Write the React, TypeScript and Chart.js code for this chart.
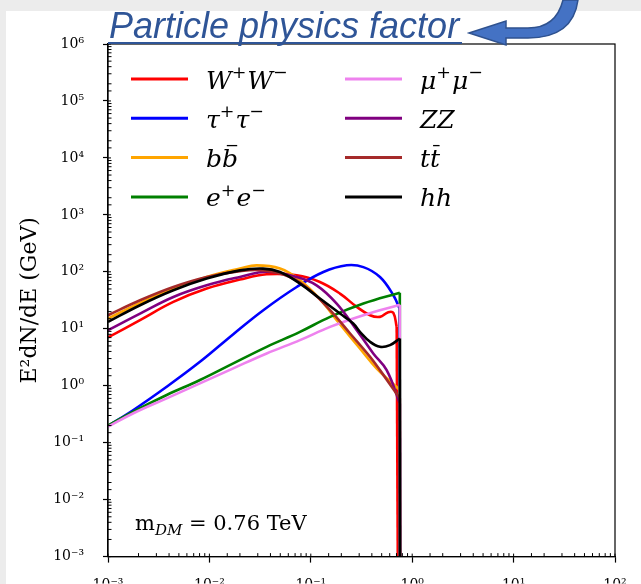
import React, { useEffect, useRef } from 'react';
import { Chart, registerables } from 'chart.js';

Chart.register(...registerables);

// ---------- data (x: E in TeV, y: E^2 dN/dE in GeV) ----------
const wwX = [0.001, 0.00207, 0.00441, 0.0094, 0.02, 0.0367, 0.0726, 0.123, 0.194, 0.284, 0.384, 0.481, 0.581, 0.652, 0.703, 0.73];
const wwY = [7.05, 14.2, 29.6, 50.8, 73, 90.4, 86.8, 66.3, 41.5, 24.2, 17.3, 16.2, 19.6, 19.0, 10.8, 1e-5];

const tauX = [0.001, 0.00178, 0.00379, 0.00807, 0.0172, 0.034, 0.0726, 0.133, 0.226, 0.33, 0.481, 0.652, 0.75, 0.76];
const tauY = [0.197, 0.375, 0.96, 2.63, 8.04, 21.2, 54.2, 99.2, 130, 121, 81, 38.8, 22.7, 1e-5];

const bbX = [0.001, 0.00207, 0.00441, 0.0094, 0.02, 0.0292, 0.0497, 0.0782, 0.123, 0.194, 0.305, 0.447, 0.75, 0.76];
const bbY = [15.1, 28.4, 50.8, 81.1, 114, 130, 114, 71, 33, 12, 4.5, 2.0, 0.85, 1e-5];

const eeX = [0.001, 0.00178, 0.00379, 0.00807, 0.0172, 0.0367, 0.0782, 0.155, 0.33, 0.755, 0.76];
const eeY = [0.2, 0.351, 0.687, 1.26, 2.47, 4.82, 8.83, 16.2, 27.7, 42.9, 1e-5];

const mmX = [0.001, 0.00178, 0.00379, 0.00807, 0.0172, 0.0367, 0.0782, 0.155, 0.33, 0.755, 0.76];
const mmY = [0.191, 0.329, 0.601, 1.1, 2.02, 3.69, 6.31, 10.8, 17.3, 26.4, 1e-5];

const zzX = [0.001, 0.00207, 0.00441, 0.0094, 0.02, 0.0367, 0.0726, 0.114, 0.18, 0.284, 0.413, 0.56, 0.755, 0.76];
const zzY = [9.45, 18.5, 36.2, 58, 81.1, 100, 81.1, 58, 27.7, 9.45, 3.69, 1.88, 0.49, 1e-5];

const ttX = [0.001, 0.00207, 0.00441, 0.0094, 0.02, 0.034, 0.0623, 0.098, 0.155, 0.244, 0.384, 0.481, 0.755, 0.76];
const ttY = [17.3, 31.7, 54.2, 81.1, 103, 106, 81.1, 47.4, 21.2, 8.27, 3.22, 1.88, 0.6, 1e-5];

const hhX = [0.001, 0.00207, 0.00441, 0.0094, 0.02, 0.0338, 0.0497, 0.0782, 0.123, 0.194, 0.262, 0.305, 0.384, 0.481, 0.604, 0.755, 0.76];
const hhY = [13.2, 25.9, 47.4, 76, 106, 114, 99, 62.1, 33.9, 18.5, 12.4, 8.83, 5.9, 4.82, 5.16, 6.76, 1e-5];

const seriesLabels = ['W⁺W⁻', 'τ⁺τ⁻', 'bb̄', 'e⁺e⁻', 'μ⁺μ⁻', 'ZZ', 'tt̄', 'hh'];
const seriesColors = ['#ff0000', '#0000ff', '#ffa500', '#008000', '#ee82ee', '#800080', '#a52a2a', '#000000'];
const seriesX = [wwX, tauX, bbX, eeX, mmX, zzX, ttX, hhX];
const seriesY = [wwY, tauY, bbY, eeY, mmY, zzY, ttY, hhY];

type Seg = { t: string; sup?: boolean; bar?: boolean };
const legendLabels: Seg[][] = [
  [{ t: 'W' }, { t: '+', sup: true }, { t: 'W' }, { t: '−', sup: true }],
  [{ t: 'τ' }, { t: '+', sup: true }, { t: 'τ' }, { t: '−', sup: true }],
  [{ t: 'b' }, { t: 'b', bar: true }],
  [{ t: 'e' }, { t: '+', sup: true }, { t: 'e' }, { t: '−', sup: true }],
  [{ t: 'μ' }, { t: '+', sup: true }, { t: 'μ' }, { t: '−', sup: true }],
  [{ t: 'Z' }, { t: 'Z' }],
  [{ t: 't' }, { t: 't', bar: true }],
  [{ t: 'h' }, { t: 'h' }],
];

const yTitle = 'E²dN/dE (GeV)';
const massText = { m: 'm', sub: 'DM', rest: ' = 0.76 TeV' };
const headline = 'Particle physics factor';

const SUP: Record<string, string> = { '0': '⁰', '1': '¹', '2': '²', '3': '³', '4': '⁴', '5': '⁵', '6': '⁶', '7': '⁷', '8': '⁸', '9': '⁹', '-': '⁻' };
const isPow10 = (v: number) => {
  const l = Math.log10(v);
  return Math.abs(l - Math.round(l)) < 1e-6;
};
const powLabel = (v: number) => {
  if (!isPow10(v)) return '';
  const r = Math.round(Math.log10(v));
  return '10' + String(r).split('').map((c) => SUP[c]).join('');
};

const SERIF = '"DejaVu Serif", serif';

function drawRich(ctx: CanvasRenderingContext2D, segs: Seg[], x: number, baseline: number, size: number) {
  let cx = x;
  for (const s of segs) {
    const fs = s.sup ? size * 0.7 : size;
    ctx.font = `${s.sup ? '' : 'italic '}${fs}px ${SERIF}`;
    const y = s.sup ? baseline - size * 0.42 : baseline;
    ctx.fillText(s.t, cx, y);
    const w = ctx.measureText(s.t).width;
    if (s.bar) {
      ctx.beginPath();
      ctx.lineWidth = 1.3;
      ctx.moveTo(cx + w * 0.3, baseline - size * 0.86);
      ctx.lineTo(cx + w * 0.95, baseline - size * 0.86);
      ctx.stroke();
    }
    cx += w + (s.sup ? 1 : 0);
  }
}

const decorPlugin = {
  id: 'decor',
  afterDraw(chart: any) {
    const { ctx, chartArea: ca, scales } = chart;
    ctx.save();
    ctx.strokeStyle = '#000';
    ctx.lineWidth = 1.2;
    ctx.strokeRect(ca.left, ca.top, ca.right - ca.left, ca.bottom - ca.top);
    const xs = scales.x;
    const ys = scales.y;
    ctx.lineWidth = 1;
    xs.ticks.forEach((t: any) => {
      const p = xs.getPixelForValue(t.value);
      const len = isPow10(t.value) ? 3 : 3.5;
      ctx.beginPath();
      ctx.moveTo(p, ca.bottom);
      ctx.lineTo(p, ca.bottom - len);
      ctx.stroke();
    });
    ys.ticks.forEach((t: any) => {
      const p = ys.getPixelForValue(t.value);
      const len = isPow10(t.value) ? 3 : 3.5;
      ctx.beginPath();
      ctx.moveTo(ca.left, p);
      ctx.lineTo(ca.left + len, p);
      ctx.stroke();
    });
    // legend
    for (let i = 0; i < seriesLabels.length; i++) {
      const col = Math.floor(i / 4);
      const row = i % 4;
      const lx = ca.left + 23 + col * 214;
      const ly = ca.top + 35 + row * 39.3;
      ctx.strokeStyle = seriesColors[i];
      ctx.lineWidth = 3;
      ctx.beginPath();
      ctx.moveTo(lx, ly);
      ctx.lineTo(lx + 57, ly);
      ctx.stroke();
      ctx.fillStyle = '#000';
      ctx.strokeStyle = '#000';
      ctx.textBaseline = 'alphabetic';
      ctx.textAlign = 'left';
      drawRich(ctx, legendLabels[i], lx + 75, ly + 9.5, 25);
    }
    // mass annotation
    let ax = ca.left + 27;
    const ab = ca.bottom - 27;
    ctx.fillStyle = '#000';
    ctx.font = `21px ${SERIF}`;
    ctx.fillText(massText.m, ax, ab);
    ax += ctx.measureText(massText.m).width;
    ctx.font = `italic 15px ${SERIF}`;
    ctx.fillText(massText.sub, ax, ab + 5);
    ax += ctx.measureText(massText.sub).width;
    ctx.font = `21px ${SERIF}`;
    ctx.fillText(massText.rest, ax, ab);
    ctx.restore();
  },
};

export default function App() {
  const ref = useRef<HTMLCanvasElement | null>(null);
  useEffect(() => {
    if (!ref.current) return;
    const n = seriesLabels.length;
    const datasets: any[] = [];
    seriesLabels.forEach((label, i) => {
      const xs = seriesX[i];
      const ys = seriesY[i];
      const k = xs.length;
      // smooth spectrum up to the kinematic edge
      datasets.push({
        label,
        data: xs.slice(0, k - 1).map((x, j) => ({ x, y: ys[j] })),
        borderColor: seriesColors[i],
        backgroundColor: seriesColors[i],
        borderWidth: 2.6,
        pointRadius: 0,
        fill: false,
        tension: 0.4,
        order: n - i,
      });
      // sharp cut-off at E = m_DM
      datasets.push({
        label: label + ' cut-off',
        data: xs.slice(k - 2).map((x, j) => ({ x, y: ys[k - 2 + j] })),
        borderColor: seriesColors[i],
        backgroundColor: seriesColors[i],
        borderWidth: 2.6,
        pointRadius: 0,
        fill: false,
        tension: 0,
        order: n - i - 0.5,
      });
    });
    const chart = new Chart(ref.current, {
      type: 'line',
      data: { datasets },
      options: {
        animation: false,
        responsive: false,
        maintainAspectRatio: false,
        layout: { padding: { top: 44, right: 26, left: 0, bottom: 0 } },
        plugins: { legend: { display: false }, tooltip: { enabled: false } },
        scales: {
          x: {
            type: 'logarithmic',
            min: 1e-3,
            max: 1e2,
            afterFit: (s: any) => {
              s.height = 27;
            },
            ticks: {
              autoSkip: false,
              maxRotation: 0,
              minRotation: 0,
              padding: 14,
              color: '#000',
              font: { family: 'DejaVu Serif', size: 14 },
              callback: (v: any) => powLabel(Number(v)),
            },
            grid: {
              drawOnChartArea: false,
              drawTicks: true,
              tickLength: 6,
              tickWidth: 1.2,
              tickColor: (c: any) => (c.tick && isPow10(c.tick.value) ? '#000' : 'rgba(0,0,0,0)'),
            },
            border: { display: true, color: '#000', width: 1.2 },
          },
          y: {
            type: 'logarithmic',
            min: 1e-3,
            max: 1e6,
            afterFit: (s: any) => {
              s.width = 108;
            },
            ticks: {
              autoSkip: false,
              padding: 19,
              color: '#000',
              font: { family: 'DejaVu Serif', size: 14 },
              callback: (v: any) => powLabel(Number(v)),
            },
            grid: {
              drawOnChartArea: false,
              drawTicks: true,
              tickLength: 5,
              tickWidth: 1.2,
              tickColor: (c: any) => (c.tick && isPow10(c.tick.value) ? '#000' : 'rgba(0,0,0,0)'),
            },
            border: { display: true, color: '#000', width: 1.2 },
            title: {
              display: true,
              text: yTitle,
              color: '#000',
              font: { family: 'DejaVu Serif', size: 22 },
              padding: { top: 17, bottom: 0 },
            },
          },
        },
      },
      plugins: [decorPlugin],
    });
    return () => chart.destroy();
  }, []);

  return (
    <div style={{ position: 'fixed', left: 0, top: 0, width: 641, height: 584, overflow: 'hidden', background: '#ececec' }}>
      <div style={{ position: 'absolute', left: 6, top: 11, right: 0, bottom: 0, background: '#ffffff' }} />
      <canvas ref={ref} width={641} height={584} style={{ position: 'absolute', left: 0, top: 0, width: 641, height: 584 }} />
      <svg width={641} height={60} style={{ position: 'absolute', left: 0, top: 0, pointerEvents: 'none' }}>
        <text x={109} y={38} fontFamily='"Liberation Sans", Arial, sans-serif' fontStyle="italic" fontSize={36} fill="#2F5597">
          {headline}
        </text>
        <line x1={108} y1={43} x2={462} y2={43} stroke="#2F5597" strokeWidth={2} />
        <path
          d="M469,33 L506,21 L506,28 L528,28 Q556,28 563,0 L578,0 Q573,38 528,38 L506,38 L506,45 Z"
          fill="#4472C4"
          stroke="#2F528F"
          strokeWidth={1.5}
        />
      </svg>
    </div>
  );
}
